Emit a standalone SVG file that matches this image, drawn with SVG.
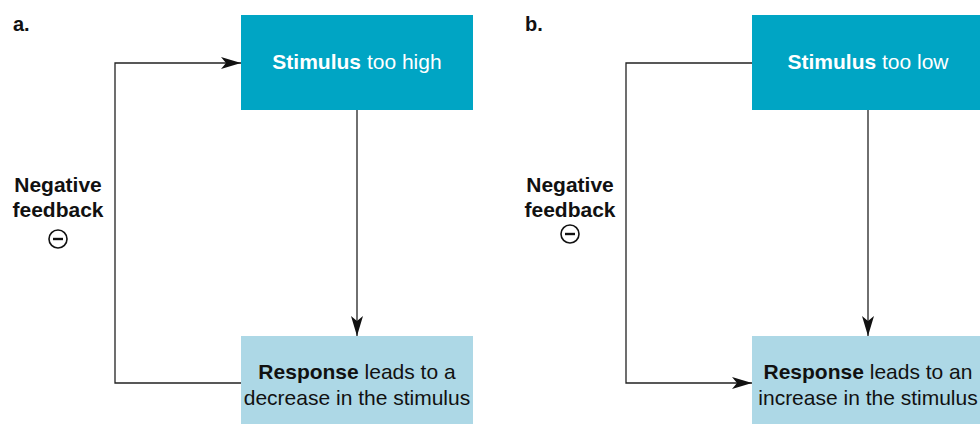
<svg xmlns="http://www.w3.org/2000/svg" width="980" height="424" viewBox="0 0 980 424">
  <style>
    text { font-family: "Liberation Sans", Arial, sans-serif; }
    .panel { font-size: 20px; font-weight: bold; fill: #111; }
    .stim { fill: #00A5C4; }
    .resp { fill: #ADD8E6; }
    .stimtxt { font-size: 21px; fill: #fff; text-anchor: middle; }
    .resptxt { font-size: 21px; fill: #111; text-anchor: middle; }
    .fb { font-size: 21px; font-weight: bold; fill: #111; text-anchor: middle; }
    .b { font-weight: bold; }
    .line { fill: none; stroke: #222; stroke-width: 1.3; }
    .sign { fill: none; stroke: #111; stroke-width: 1.6; }
  </style>
  <defs>
    <marker id="arrow" viewBox="0 0 20 12" refX="20" refY="6" markerWidth="20" markerHeight="12" markerUnits="userSpaceOnUse" orient="auto">
      <path d="M0,0 L20,6 L0,12 L5,6 Z" fill="#111"/>
    </marker>
  </defs>

  <!-- panel labels -->
  <text class="panel" x="13" y="31">a.</text>
  <text class="panel" x="525" y="31">b.</text>

  <!-- panel a nodes -->
  <g id="a-stimulus">
    <rect class="stim" x="241" y="15" width="232" height="95"/>
    <text class="stimtxt" x="357" y="69"><tspan class="b">Stimulus</tspan> too high</text>
  </g>
  <g id="a-response">
    <rect class="resp" x="241" y="336" width="232" height="88"/>
    <text class="resptxt" x="357" y="379"><tspan class="b">Response</tspan> leads to a</text>
    <text class="resptxt" x="357" y="405">decrease in the stimulus</text>
  </g>
  <g id="a-feedback">
    <text class="fb" x="58" y="192">Negative</text>
    <text class="fb" x="58" y="217">feedback</text>
    <circle class="sign" cx="58" cy="239" r="9"/>
    <line x1="53" y1="239" x2="63" y2="239" stroke="#111" stroke-width="2.4"/>
  </g>

  <!-- panel b nodes -->
  <g id="b-stimulus">
    <rect class="stim" x="752" y="15" width="228" height="95"/>
    <text class="stimtxt" x="868" y="69"><tspan class="b">Stimulus</tspan> too low</text>
  </g>
  <g id="b-response">
    <rect class="resp" x="752" y="336" width="228" height="88"/>
    <text class="resptxt" x="868" y="379"><tspan class="b">Response</tspan> leads to an</text>
    <text class="resptxt" x="868" y="405">increase in the stimulus</text>
  </g>
  <g id="b-feedback">
    <text class="fb" x="570" y="192">Negative</text>
    <text class="fb" x="570" y="217">feedback</text>
    <circle class="sign" cx="570" cy="234" r="9"/>
    <line x1="565" y1="234" x2="575" y2="234" stroke="#111" stroke-width="2.4"/>
  </g>

  <!-- connectors -->
  <g id="connectors">
    <line class="line" x1="357" y1="110" x2="357" y2="336" marker-end="url(#arrow)"/>
    <polyline class="line" points="241,383 115,383 115,63 241,63" marker-end="url(#arrow)"/>
    <line class="line" x1="868" y1="110" x2="868" y2="336" marker-end="url(#arrow)"/>
    <polyline class="line" points="752,63 626,63 626,383 752,383" marker-end="url(#arrow)"/>
  </g>
</svg>
